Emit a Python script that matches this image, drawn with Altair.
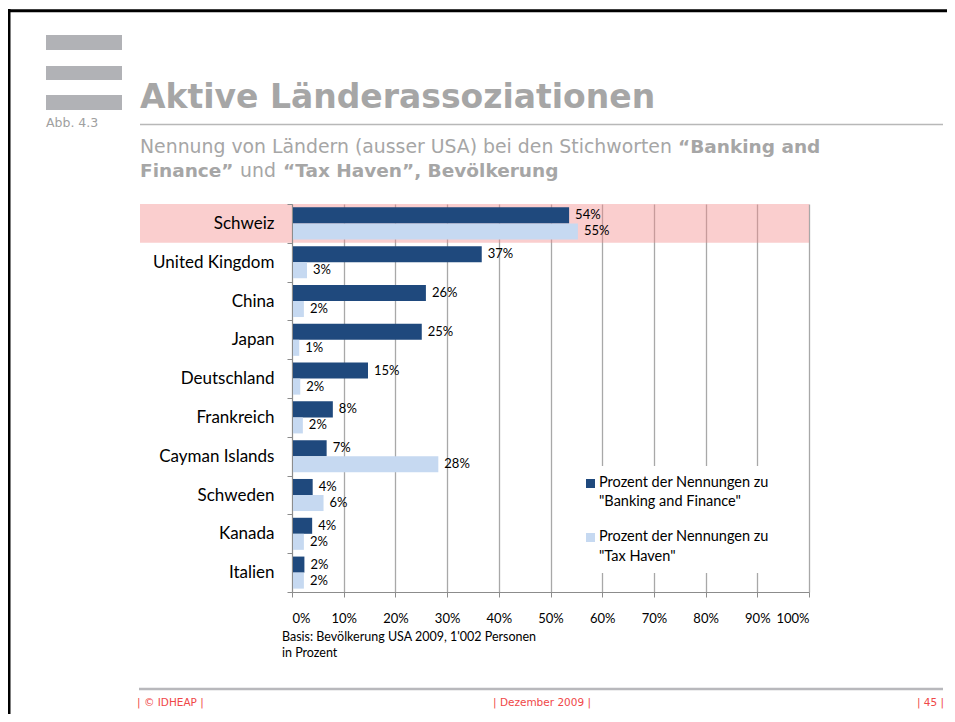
import altair as alt
import pandas as pd

countries = ["Schweiz", "United Kingdom", "China", "Japan", "Deutschland",
             "Frankreich", "Cayman Islands", "Schweden", "Kanada", "Italien"]
series_names = ['Prozent der Nennungen zu "Banking and Finance"',
                'Prozent der Nennungen zu "Tax Haven"']
banking = [53.6, 36.7, 25.9, 25.1, 14.7, 7.9, 6.7, 4.0, 3.9, 2.4]
taxhaven = [55.3, 2.9, 2.3, 1.4, 1.6, 2.1, 28.3, 6.1, 2.3, 2.3]
colors = ["#1f497d", "#c6d9f1"]
x_ticks = list(range(0, 101, 10))

rows = []
for c, b, t in zip(countries, banking, taxhaven):
    rows.append({"country": c, "series": series_names[0], "value": b, "label": f"{round(b)}%"})
    rows.append({"country": c, "series": series_names[1], "value": t, "label": f"{round(t)}%"})
df = pd.DataFrame(rows)

W, H = 517, 388
FONT = "Lato"
GREY_T = "#a6a6a6"

y_enc = alt.Y("country:N", sort=countries,
              scale=alt.Scale(paddingInner=0, paddingOuter=0),
              axis=alt.Axis(title=None, tickBand="extent", tickSize=5, tickColor="#8c8c8c",
                            domainColor="#8c8c8c", labelFont=FONT, labelFontSize=17,
                            labelColor="black", labelPadding=13, grid=False))
x_enc = alt.X("value:Q", scale=alt.Scale(domain=[0, 100]),
              axis=alt.Axis(title=None, values=x_ticks, labelExpr="datum.value + '%'",
                            grid=True, gridColor="#a8a8a8", gridWidth=1.3,
                            tickSize=5, tickColor="#8c8c8c", domainColor="#8c8c8c",
                            labelFont=FONT, labelFontSize=13, labelColor="black",
                            labelPadding=15))
yoff = alt.YOffset("series:N", sort=series_names,
                   scale=alt.Scale(paddingOuter=0.21, paddingInner=0))
color_enc = alt.Color("series:N", scale=alt.Scale(domain=series_names, range=colors), legend=None)

highlight = alt.Chart(pd.DataFrame({"country": [countries[0]]})).mark_rect(
    fill="#f28b8b", opacity=0.42).encode(
    y=alt.Y("country:N", sort=countries), x=alt.value(-152), x2=alt.value(W))

bars = alt.Chart(df).mark_bar().encode(x=x_enc, y=y_enc, yOffset=yoff, color=color_enc)
labels = alt.Chart(df).mark_text(align="left", baseline="middle", dx=6, font=FONT,
                                 fontSize=13, color="black").encode(
    x="value:Q", y=alt.Y("country:N", sort=countries), yOffset=yoff, text="label:N")


def one(s="x"):
    return alt.Chart(pd.DataFrame({"t": [s]}))


def txt(s, x, y, size, color="black", font=FONT, weight="normal", align="left", baseline="middle"):
    return one(s).mark_text(align=align, baseline=baseline, font=font, fontSize=size,
                            color=color, fontWeight=weight).encode(
        x=alt.value(x), y=alt.value(y), text="t:N")


def box(x, x2, y, y2, fill):
    return one().mark_rect(fill=fill).encode(x=alt.value(x), x2=alt.value(x2),
                                             y=alt.value(y), y2=alt.value(y2))


def hline(x, x2, y, color, w):
    return one().mark_rule(color=color, strokeWidth=w).encode(
        x=alt.value(x), x2=alt.value(x2), y=alt.value(y))


def vline(x, y, y2, color, w):
    return one().mark_rule(color=color, strokeWidth=w).encode(
        x=alt.value(x), y=alt.value(y), y2=alt.value(y2))


# legend
legend_layers = [box(283, 498, 262, 369, "white")]
leg_pos = [(279.5, [279.3, 298.3], ['Prozent der Nennungen zu', '"Banking and Finance"']),
           (333.5, [332.5, 353.0], ['Prozent der Nennungen zu', '"Tax Haven"'])]
for name, (sy, ly, lines) in zip(series_names, leg_pos):
    legend_layers.append(
        alt.Chart(pd.DataFrame({"series": [name]})).mark_square(size=81, opacity=1).encode(
            x=alt.value(298.5), y=alt.value(sy), color=color_enc))
    for yy, ln in zip(ly, lines):
        legend_layers.append(txt(ln, 307, yy, 14.5))

deco = [
    # slide frame
    vline(-283, -195, 520, "black", 3),
    hline(-290, 660, -193.3, "black", 3),
    # grey bars
    box(-246, -170, -169, -154, "#b1b2b6"),
    box(-246, -170, -138, -124, "#b1b2b6"),
    box(-246, -170, -109, -94, "#b1b2b6"),
    txt("Abb. 4.3", -246, -81.5, 12.5, color="#a0a0a0", font="DejaVu Sans"),
    # title
    txt("Aktive Länderassoziationen", -152, -96, 33, color=GREY_T, font="DejaVu Sans",
        weight="bold", baseline="alphabetic"),
    hline(-152, 651, -79.5, "#b8b8b8", 1.5),
    txt("Nennung von Ländern (ausser USA) bei den Stichworten", -152, -50.7, 18.85,
        color=GREY_T, font="DejaVu Sans", baseline="alphabetic"),
    txt("“Banking and", 386, -50.7, 18.5, color=GREY_T, font="DejaVu Sans", weight="bold",
        baseline="alphabetic"),
    txt("Finance”", -152, -27.3, 18.5, color=GREY_T, font="DejaVu Sans", weight="bold",
        baseline="alphabetic"),
    txt("und", -52, -27.3, 18.85, color=GREY_T, font="DejaVu Sans", baseline="alphabetic"),
    txt("“Tax Haven”, Bevölkerung", -9, -27.3, 18.5, color=GREY_T, font="DejaVu Sans",
        weight="bold", baseline="alphabetic"),
    # footnote
    txt("Basis: Bevölkerung USA  2009, 1'002 Personen", -10, 433, 12.5),
    txt("in Prozent", -10, 449, 12.5),
    # footer
    hline(-153, 651, 485, "#b8b8bc", 2.5),
    txt("| © IDHEAP |", -155, 499, 10.5, color="#f04848", font="DejaVu Sans"),
    txt("| Dezember 2009 |", 201, 499, 10.5, color="#f04848", font="DejaVu Sans"),
    txt("| 45 |", 652, 499, 10.5, color="#f04848", font="DejaVu Sans", align="right"),
]

chart = alt.layer(highlight, bars, labels, *legend_layers, *deco).properties(
    width=W, height=H,
    padding={"left": 284, "top": 196, "right": 138, "bottom": 122},
    autosize=alt.AutoSizeParams(type="none"),
    background="white",
).configure_view(stroke=None)

chart.save("out.html", embed_options={"renderer": "svg", "actions": False})
